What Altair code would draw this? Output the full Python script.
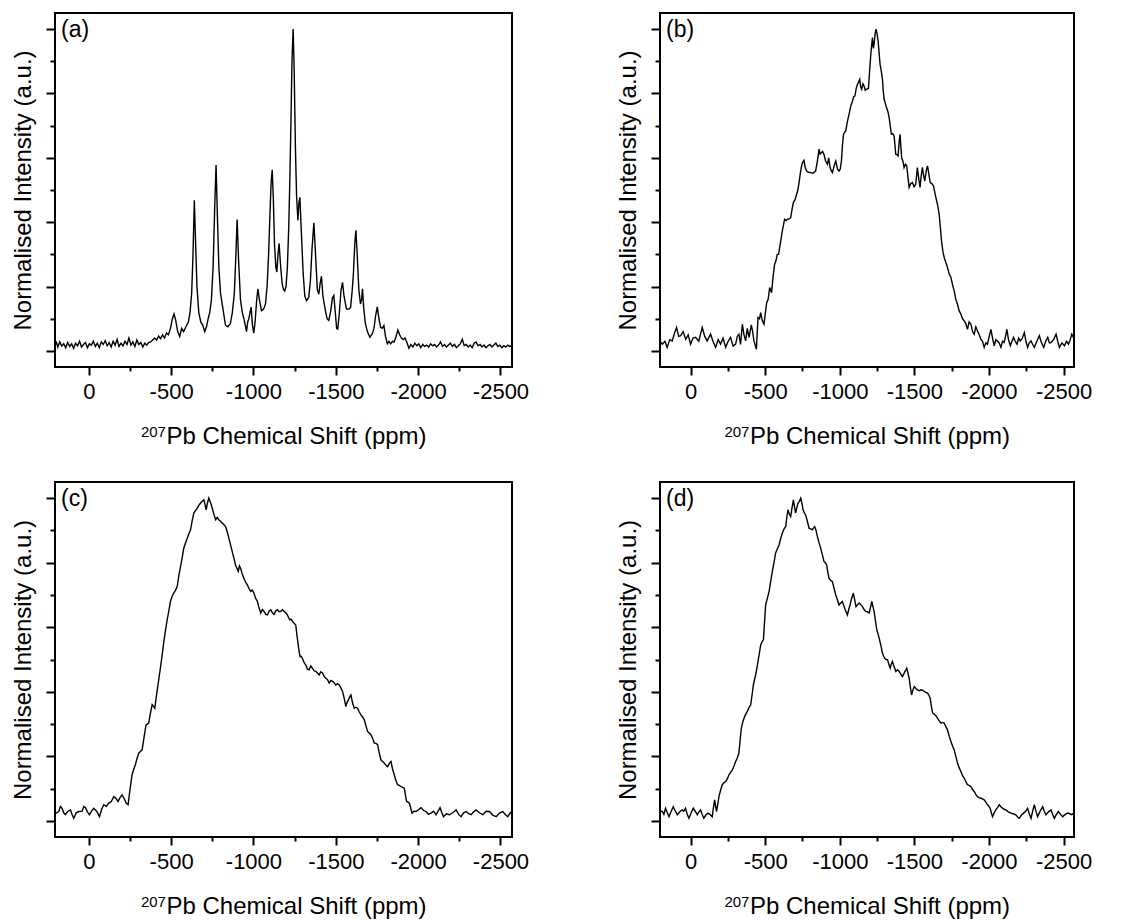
import altair as alt
import pandas as pd

FONT = "Liberation Sans"

# x-axis (ppm) ticks and y ticks
x_ticks = [0, -250, -500, -750, -1000, -1250, -1500, -1750, -2000, -2250, -2500]
y_ticks = [0, 0.1, 0.2, 0.3, 0.4, 0.5, 0.6, 0.7, 0.8, 0.9, 1.0]
x_title = "Pb Chemical Shift (ppm)"
x_title_isotope = "207"
y_title = "Normalised Intensity (a.u.)"
panel_labels = ["(a)", "(b)", "(c)", "(d)"]

# (ppm, normalised intensity)
spectrum_a = [
    (205, 0.018), (196, 0.026), (188, 0.012), (176, 0.028), (164, 0.015), (152, 0.022), (140, 0.010),
    (128, 0.026), (116, 0.014), (104, 0.022), (92, 0.008), (80, 0.024), (68, 0.016), (56, 0.030),
    (44, 0.012), (32, 0.020), (20, 0.026), (8, 0.010), (-4, 0.022), (-16, 0.018), (-28, 0.030),
    (-40, 0.014), (-52, 0.024), (-64, 0.010), (-76, 0.028), (-88, 0.020), (-100, 0.032), (-112, 0.016),
    (-124, 0.026), (-136, 0.012), (-148, 0.030), (-160, 0.018), (-172, 0.036), (-184, 0.014),
    (-196, 0.024), (-208, 0.016), (-220, 0.030), (-232, 0.020), (-244, 0.040), (-256, 0.018),
    (-268, 0.028), (-280, 0.014), (-292, 0.034), (-304, 0.020), (-316, 0.026), (-328, 0.012),
    (-340, 0.024), (-352, 0.018), (-364, 0.026), (-376, 0.028), (-388, 0.034), (-400, 0.040),
    (-412, 0.034), (-424, 0.046), (-436, 0.038), (-448, 0.050), (-460, 0.040), (-472, 0.056),
    (-484, 0.050), (-496, 0.070), (-508, 0.100), (-518, 0.115), (-528, 0.095), (-540, 0.060),
    (-552, 0.045), (-564, 0.070), (-576, 0.060), (-590, 0.075), (-605, 0.090), (-615, 0.120),
    (-625, 0.180), (-633, 0.300), (-641, 0.468), (-649, 0.330), (-657, 0.200), (-668, 0.120),
    (-680, 0.090), (-692, 0.080), (-704, 0.060), (-715, 0.075), (-725, 0.100), (-735, 0.120),
    (-745, 0.160), (-755, 0.260), (-765, 0.450), (-773, 0.578), (-781, 0.420), (-790, 0.260),
    (-800, 0.180), (-815, 0.130), (-830, 0.080), (-845, 0.075), (-860, 0.085), (-872, 0.120),
    (-884, 0.180), (-892, 0.280), (-901, 0.408), (-910, 0.280), (-921, 0.160), (-932, 0.120),
    (-942, 0.100), (-950, 0.080), (-958, 0.060), (-965, 0.090), (-972, 0.100), (-986, 0.136),
    (-994, 0.080), (-1002, 0.055), (-1010, 0.090), (-1020, 0.160), (-1027, 0.193), (-1036, 0.160),
    (-1049, 0.125), (-1062, 0.130), (-1073, 0.146), (-1083, 0.200), (-1092, 0.300), (-1100, 0.420),
    (-1107, 0.520), (-1114, 0.563), (-1121, 0.470), (-1128, 0.330), (-1136, 0.260), (-1142, 0.245),
    (-1149, 0.300), (-1156, 0.334), (-1164, 0.270), (-1174, 0.210), (-1183, 0.190), (-1190, 0.186),
    (-1198, 0.200), (-1206, 0.260), (-1214, 0.380), (-1221, 0.530), (-1228, 0.720), (-1234, 0.900),
    (-1241, 1.000), (-1247, 0.880), (-1255, 0.630), (-1262, 0.480), (-1270, 0.405), (-1276, 0.460),
    (-1282, 0.477), (-1290, 0.380), (-1302, 0.240), (-1312, 0.170), (-1322, 0.156), (-1336, 0.167),
    (-1346, 0.220), (-1356, 0.320), (-1367, 0.398), (-1377, 0.300), (-1388, 0.190), (-1397, 0.176),
    (-1405, 0.210), (-1413, 0.232), (-1422, 0.170), (-1437, 0.125), (-1447, 0.100), (-1457, 0.095),
    (-1468, 0.120), (-1480, 0.165), (-1488, 0.172), (-1497, 0.120), (-1505, 0.070), (-1512, 0.068),
    (-1522, 0.120), (-1532, 0.190), (-1541, 0.213), (-1550, 0.170), (-1565, 0.130), (-1580, 0.130),
    (-1590, 0.135), (-1600, 0.190), (-1607, 0.240), (-1615, 0.330), (-1622, 0.375), (-1630, 0.300),
    (-1640, 0.190), (-1650, 0.146), (-1657, 0.160), (-1662, 0.193), (-1670, 0.130), (-1680, 0.084),
    (-1692, 0.060), (-1707, 0.042), (-1721, 0.053), (-1732, 0.070), (-1742, 0.110), (-1752, 0.137),
    (-1762, 0.100), (-1772, 0.073), (-1782, 0.070), (-1792, 0.079), (-1802, 0.045), (-1813, 0.022),
    (-1823, 0.030), (-1833, 0.022), (-1845, 0.030), (-1854, 0.027), (-1866, 0.045), (-1877, 0.065),
    (-1888, 0.050), (-1898, 0.040), (-1910, 0.035), (-1920, 0.040), (-1932, 0.026), (-1944, 0.008),
    (-1956, 0.020), (-1968, 0.012), (-1980, 0.024), (-1992, 0.016), (-2004, 0.022), (-2016, 0.010),
    (-2028, 0.020), (-2040, 0.014), (-2052, 0.018), (-2064, 0.012), (-2076, 0.022), (-2088, 0.016),
    (-2100, 0.020), (-2112, 0.012), (-2124, 0.018), (-2136, 0.028), (-2148, 0.014), (-2160, 0.020),
    (-2172, 0.012), (-2184, 0.018), (-2196, 0.024), (-2208, 0.014), (-2220, 0.020), (-2232, 0.010),
    (-2244, 0.016), (-2256, 0.022), (-2268, 0.036), (-2280, 0.016), (-2292, 0.020), (-2304, 0.012),
    (-2316, 0.018), (-2328, 0.010), (-2340, 0.024), (-2352, 0.028), (-2364, 0.016), (-2376, 0.020),
    (-2388, 0.012), (-2400, 0.018), (-2412, 0.010), (-2424, 0.016), (-2436, 0.020), (-2448, 0.012),
    (-2460, 0.018), (-2472, 0.024), (-2484, 0.014), (-2496, 0.018), (-2508, 0.010), (-2520, 0.016),
    (-2532, 0.012), (-2544, 0.018), (-2556, 0.014), (-2568, 0.016),
]

spectrum_b = [
    (205, 0.030), (190, 0.021), (172, 0.030), (157, 0.011), (140, 0.035), (123, 0.031), (108, 0.055),
    (94, 0.073), (80, 0.045), (67, 0.047), (50, 0.060), (33, 0.036), (16, 0.050), (0, 0.021),
    (-16, 0.040), (-33, 0.042), (-55, 0.030), (-78, 0.073), (-95, 0.045), (-111, 0.031), (-134, 0.052),
    (-150, 0.030), (-168, 0.011), (-185, 0.035), (-201, 0.021), (-218, 0.040), (-235, 0.011),
    (-252, 0.030), (-268, 0.042), (-285, 0.015), (-302, 0.021), (-313, 0.045), (-324, 0.052),
    (-335, 0.020), (-347, 0.083), (-358, 0.050), (-369, 0.031), (-380, 0.070), (-392, 0.042),
    (-407, 0.081), (-416, 0.060), (-425, 0.031), (-441, 0.005), (-452, 0.104), (-462, 0.100),
    (-470, 0.119), (-480, 0.095), (-492, 0.083), (-510, 0.150), (-520, 0.160), (-530, 0.197),
    (-543, 0.181), (-553, 0.230), (-563, 0.269), (-572, 0.280), (-581, 0.300), (-590, 0.300),
    (-599, 0.326), (-607, 0.350), (-615, 0.373), (-630, 0.409), (-640, 0.405), (-648, 0.409),
    (-660, 0.410), (-671, 0.414), (-680, 0.440), (-689, 0.461), (-700, 0.470), (-711, 0.487),
    (-719, 0.500), (-727, 0.523), (-735, 0.550), (-742, 0.570), (-750, 0.585), (-760, 0.592),
    (-768, 0.570), (-778, 0.559), (-790, 0.555), (-805, 0.554), (-820, 0.552), (-838, 0.559),
    (-850, 0.590), (-861, 0.627), (-868, 0.612), (-876, 0.616), (-885, 0.620), (-894, 0.611),
    (-905, 0.590), (-917, 0.580), (-926, 0.600), (-935, 0.570), (-943, 0.560), (-951, 0.554),
    (-962, 0.575), (-973, 0.590), (-985, 0.565), (-995, 0.559), (-1003, 0.565), (-1011, 0.590),
    (-1018, 0.640), (-1025, 0.673), (-1033, 0.680), (-1040, 0.683), (-1050, 0.710), (-1062, 0.735),
    (-1073, 0.760), (-1085, 0.776), (-1093, 0.790), (-1101, 0.792), (-1110, 0.815), (-1118, 0.828),
    (-1126, 0.835), (-1134, 0.844), (-1140, 0.820), (-1147, 0.813), (-1155, 0.830), (-1163, 0.823),
    (-1171, 0.810), (-1179, 0.813), (-1192, 0.816), (-1200, 0.870), (-1208, 0.922), (-1214, 0.950),
    (-1219, 0.974), (-1225, 0.940), (-1230, 0.953), (-1237, 0.985), (-1243, 1.000), (-1250, 0.985),
    (-1257, 0.963), (-1263, 0.930), (-1270, 0.891), (-1278, 0.870), (-1286, 0.844), (-1291, 0.810),
    (-1297, 0.782), (-1305, 0.770), (-1313, 0.756), (-1322, 0.745), (-1331, 0.725), (-1338, 0.700),
    (-1346, 0.673), (-1355, 0.675), (-1364, 0.668), (-1370, 0.640), (-1375, 0.611), (-1383, 0.610),
    (-1391, 0.606), (-1398, 0.650), (-1404, 0.673), (-1410, 0.630), (-1415, 0.600), (-1423, 0.590),
    (-1431, 0.570), (-1440, 0.580), (-1449, 0.575), (-1457, 0.540), (-1465, 0.508), (-1476, 0.520),
    (-1487, 0.523), (-1498, 0.510), (-1509, 0.518), (-1515, 0.545), (-1520, 0.570), (-1528, 0.540),
    (-1538, 0.508), (-1546, 0.545), (-1554, 0.570), (-1562, 0.545), (-1570, 0.528), (-1580, 0.560),
    (-1588, 0.575), (-1597, 0.550), (-1606, 0.523), (-1617, 0.520), (-1628, 0.513), (-1636, 0.495),
    (-1644, 0.477), (-1655, 0.455), (-1666, 0.425), (-1674, 0.385), (-1682, 0.342), (-1691, 0.310),
    (-1700, 0.290), (-1711, 0.275), (-1722, 0.259), (-1733, 0.240), (-1745, 0.228), (-1756, 0.205),
    (-1767, 0.186), (-1778, 0.160), (-1789, 0.145), (-1800, 0.125), (-1812, 0.114), (-1823, 0.100),
    (-1834, 0.093), (-1845, 0.085), (-1856, 0.067), (-1867, 0.090), (-1879, 0.083), (-1890, 0.060),
    (-1901, 0.052), (-1912, 0.075), (-1923, 0.062), (-1935, 0.050), (-1946, 0.036), (-1957, 0.030),
    (-1968, 0.011), (-1979, 0.025), (-1990, 0.021), (-2002, 0.045), (-2013, 0.067), (-2024, 0.040),
    (-2035, 0.016), (-2046, 0.035), (-2057, 0.031), (-2068, 0.025), (-2080, 0.011), (-2091, 0.030),
    (-2102, 0.026), (-2111, 0.045), (-2120, 0.067), (-2131, 0.035), (-2143, 0.016), (-2154, 0.030),
    (-2165, 0.042), (-2176, 0.030), (-2188, 0.021), (-2199, 0.040), (-2210, 0.031), (-2224, 0.040),
    (-2237, 0.057), (-2248, 0.030), (-2259, 0.011), (-2270, 0.025), (-2282, 0.031), (-2293, 0.020),
    (-2304, 0.011), (-2321, 0.030), (-2338, 0.047), (-2352, 0.025), (-2367, 0.011), (-2380, 0.030),
    (-2394, 0.042), (-2405, 0.025), (-2416, 0.026), (-2433, 0.035), (-2450, 0.052), (-2461, 0.030),
    (-2472, 0.011), (-2489, 0.025), (-2506, 0.016), (-2520, 0.030), (-2533, 0.021), (-2545, 0.035),
    (-2555, 0.052), (-2568, 0.040),
]

spectrum_c = [
    (205, 0.022), (182, 0.029), (172, 0.045), (162, 0.039), (152, 0.025), (142, 0.019), (126, 0.030),
    (111, 0.034), (101, 0.020), (91, 0.008), (76, 0.025), (61, 0.029), (40, 0.030), (30, 0.045),
    (20, 0.041), (8, 0.028), (-4, 0.019), (-17, 0.030), (-30, 0.039), (-48, 0.030), (-65, 0.013),
    (-78, 0.035), (-91, 0.050), (-106, 0.045), (-121, 0.055), (-137, 0.060), (-152, 0.075),
    (-165, 0.070), (-178, 0.060), (-190, 0.072), (-202, 0.081), (-214, 0.070), (-227, 0.055),
    (-239, 0.050), (-251, 0.100), (-263, 0.143), (-273, 0.160), (-283, 0.174), (-294, 0.195),
    (-304, 0.210), (-314, 0.215), (-324, 0.220), (-336, 0.260), (-348, 0.298), (-356, 0.300),
    (-364, 0.303), (-375, 0.335), (-385, 0.360), (-393, 0.355), (-401, 0.349), (-410, 0.385),
    (-419, 0.416), (-427, 0.445), (-435, 0.473), (-446, 0.515), (-456, 0.556), (-466, 0.590),
    (-476, 0.623), (-486, 0.650), (-496, 0.680), (-506, 0.695), (-516, 0.706), (-527, 0.715),
    (-537, 0.726), (-547, 0.760), (-557, 0.788), (-567, 0.815), (-577, 0.845), (-588, 0.862),
    (-598, 0.876), (-608, 0.890), (-618, 0.902), (-628, 0.930), (-638, 0.954), (-649, 0.962),
    (-659, 0.969), (-669, 0.978), (-679, 0.985), (-689, 0.990), (-699, 0.995), (-706, 0.980),
    (-713, 0.964), (-721, 0.985), (-729, 1.000), (-740, 0.985), (-750, 0.969), (-760, 0.950),
    (-770, 0.933), (-780, 0.940), (-790, 0.933), (-800, 0.928), (-810, 0.923), (-820, 0.918),
    (-831, 0.912), (-841, 0.895), (-851, 0.876), (-861, 0.855), (-871, 0.835), (-881, 0.815),
    (-891, 0.793), (-900, 0.783), (-908, 0.773), (-915, 0.790), (-922, 0.783), (-932, 0.765),
    (-942, 0.752), (-952, 0.740), (-963, 0.731), (-973, 0.720), (-983, 0.711), (-993, 0.715),
    (-1003, 0.706), (-1013, 0.690), (-1024, 0.680), (-1034, 0.660), (-1044, 0.644), (-1054, 0.655),
    (-1064, 0.649), (-1075, 0.640), (-1085, 0.638), (-1095, 0.650), (-1105, 0.654), (-1115, 0.645),
    (-1125, 0.640), (-1135, 0.650), (-1146, 0.654), (-1156, 0.648), (-1166, 0.649), (-1176, 0.655),
    (-1186, 0.649), (-1196, 0.645), (-1206, 0.638), (-1213, 0.630), (-1220, 0.623), (-1228, 0.625),
    (-1237, 0.618), (-1247, 0.612), (-1257, 0.607), (-1263, 0.580), (-1269, 0.556), (-1276, 0.530),
    (-1283, 0.509), (-1290, 0.510), (-1297, 0.504), (-1308, 0.490), (-1318, 0.483), (-1328, 0.470),
    (-1338, 0.468), (-1348, 0.480), (-1358, 0.473), (-1368, 0.465), (-1379, 0.463), (-1389, 0.458),
    (-1399, 0.452), (-1409, 0.462), (-1419, 0.458), (-1429, 0.448), (-1439, 0.442), (-1449, 0.438),
    (-1460, 0.427), (-1470, 0.435), (-1480, 0.432), (-1490, 0.428), (-1500, 0.421), (-1510, 0.425),
    (-1521, 0.421), (-1531, 0.412), (-1541, 0.401), (-1551, 0.380), (-1561, 0.354), (-1569, 0.368),
    (-1577, 0.375), (-1585, 0.385), (-1592, 0.390), (-1602, 0.365), (-1612, 0.349), (-1622, 0.352),
    (-1632, 0.349), (-1642, 0.338), (-1652, 0.329), (-1663, 0.322), (-1673, 0.313), (-1683, 0.295),
    (-1693, 0.277), (-1703, 0.272), (-1713, 0.267), (-1724, 0.255), (-1734, 0.241), (-1744, 0.240),
    (-1754, 0.236), (-1764, 0.210), (-1774, 0.189), (-1784, 0.184), (-1794, 0.179), (-1805, 0.172),
    (-1815, 0.168), (-1825, 0.178), (-1835, 0.184), (-1845, 0.160), (-1855, 0.143), (-1865, 0.125),
    (-1875, 0.112), (-1886, 0.110), (-1896, 0.106), (-1906, 0.104), (-1916, 0.101), (-1923, 0.080),
    (-1930, 0.060), (-1939, 0.058), (-1947, 0.055), (-1955, 0.040), (-1963, 0.024), (-1975, 0.030),
    (-1987, 0.029), (-2003, 0.035), (-2018, 0.041), (-2033, 0.032), (-2048, 0.029), (-2063, 0.020),
    (-2078, 0.024), (-2094, 0.030), (-2109, 0.019), (-2121, 0.030), (-2133, 0.041), (-2144, 0.025),
    (-2154, 0.013), (-2172, 0.022), (-2190, 0.019), (-2210, 0.025), (-2231, 0.034), (-2246, 0.020),
    (-2261, 0.013), (-2276, 0.025), (-2292, 0.029), (-2307, 0.022), (-2322, 0.019), (-2337, 0.028),
    (-2352, 0.034), (-2372, 0.025), (-2393, 0.019), (-2413, 0.030), (-2433, 0.029), (-2453, 0.018),
    (-2474, 0.013), (-2494, 0.024), (-2514, 0.029), (-2529, 0.020), (-2544, 0.013), (-2556, 0.022),
    (-2568, 0.029),
]

spectrum_d = [
    (205, 0.030), (190, 0.029), (179, 0.020), (168, 0.039), (156, 0.025), (145, 0.013), (130, 0.030),
    (116, 0.044), (102, 0.030), (89, 0.019), (72, 0.028), (56, 0.034), (45, 0.030), (34, 0.039),
    (22, 0.020), (11, 0.008), (-4, 0.025), (-18, 0.039), (-31, 0.030), (-45, 0.019), (-56, 0.028),
    (-67, 0.034), (-78, 0.020), (-89, 0.008), (-102, 0.018), (-116, 0.024), (-130, 0.020),
    (-145, 0.013), (-153, 0.040), (-161, 0.065), (-168, 0.045), (-174, 0.029), (-182, 0.050),
    (-190, 0.075), (-201, 0.095), (-212, 0.112), (-224, 0.118), (-235, 0.122), (-246, 0.130),
    (-257, 0.143), (-268, 0.150), (-280, 0.158), (-291, 0.170), (-302, 0.184), (-313, 0.195),
    (-324, 0.210), (-332, 0.250), (-340, 0.287), (-349, 0.305), (-358, 0.318), (-369, 0.330),
    (-380, 0.339), (-391, 0.350), (-403, 0.360), (-412, 0.390), (-421, 0.421), (-429, 0.438),
    (-436, 0.452), (-444, 0.472), (-452, 0.494), (-461, 0.520), (-470, 0.545), (-479, 0.555),
    (-488, 0.561), (-495, 0.610), (-503, 0.669), (-515, 0.690), (-526, 0.711), (-537, 0.742),
    (-548, 0.773), (-559, 0.800), (-570, 0.830), (-582, 0.843), (-593, 0.855), (-604, 0.875),
    (-615, 0.892), (-627, 0.905), (-638, 0.912), (-645, 0.940), (-653, 0.964), (-662, 0.950),
    (-671, 0.943), (-680, 0.970), (-689, 0.995), (-696, 0.975), (-704, 0.954), (-712, 0.970),
    (-720, 0.985), (-729, 0.990), (-738, 1.000), (-746, 0.985), (-754, 0.964), (-762, 0.955),
    (-771, 0.948), (-782, 0.930), (-794, 0.907), (-805, 0.905), (-816, 0.902), (-824, 0.908),
    (-832, 0.912), (-841, 0.900), (-850, 0.881), (-861, 0.862), (-872, 0.845), (-883, 0.825),
    (-894, 0.804), (-903, 0.800), (-912, 0.793), (-920, 0.770), (-928, 0.752), (-939, 0.745),
    (-950, 0.742), (-962, 0.720), (-973, 0.700), (-984, 0.685), (-995, 0.669), (-1006, 0.675),
    (-1017, 0.680), (-1025, 0.670), (-1033, 0.659), (-1042, 0.648), (-1051, 0.638), (-1060, 0.655),
    (-1069, 0.669), (-1080, 0.690), (-1091, 0.706), (-1100, 0.685), (-1109, 0.664), (-1120, 0.670),
    (-1130, 0.675), (-1141, 0.670), (-1152, 0.664), (-1163, 0.655), (-1174, 0.649), (-1186, 0.648),
    (-1197, 0.644), (-1206, 0.662), (-1215, 0.680), (-1222, 0.665), (-1230, 0.649), (-1239, 0.620),
    (-1248, 0.592), (-1256, 0.580), (-1264, 0.566), (-1275, 0.545), (-1286, 0.520), (-1294, 0.510),
    (-1302, 0.504), (-1311, 0.500), (-1320, 0.499), (-1329, 0.485), (-1338, 0.473), (-1345, 0.485),
    (-1353, 0.494), (-1364, 0.478), (-1376, 0.463), (-1387, 0.468), (-1398, 0.463), (-1409, 0.455),
    (-1420, 0.447), (-1434, 0.460), (-1449, 0.473), (-1457, 0.458), (-1465, 0.442), (-1473, 0.415),
    (-1481, 0.390), (-1490, 0.405), (-1499, 0.416), (-1510, 0.410), (-1521, 0.406), (-1532, 0.403),
    (-1543, 0.406), (-1555, 0.405), (-1566, 0.401), (-1577, 0.398), (-1588, 0.396), (-1597, 0.390),
    (-1606, 0.380), (-1614, 0.355), (-1622, 0.334), (-1630, 0.332), (-1637, 0.329), (-1646, 0.325),
    (-1655, 0.318), (-1667, 0.310), (-1678, 0.303), (-1689, 0.305), (-1700, 0.303), (-1711, 0.292),
    (-1722, 0.282), (-1734, 0.262), (-1745, 0.246), (-1756, 0.232), (-1767, 0.220), (-1778, 0.200),
    (-1789, 0.179), (-1800, 0.165), (-1812, 0.153), (-1823, 0.140), (-1834, 0.132), (-1845, 0.122),
    (-1856, 0.112), (-1867, 0.110), (-1879, 0.106), (-1890, 0.098), (-1901, 0.091), (-1912, 0.082),
    (-1923, 0.075), (-1935, 0.072), (-1946, 0.070), (-1957, 0.068), (-1968, 0.065), (-1979, 0.058),
    (-1990, 0.050), (-2000, 0.045), (-2008, 0.039), (-2016, 0.025), (-2024, 0.013), (-2035, 0.025),
    (-2046, 0.034), (-2058, 0.042), (-2069, 0.050), (-2080, 0.044), (-2091, 0.039), (-2102, 0.036),
    (-2113, 0.034), (-2130, 0.028), (-2147, 0.024), (-2163, 0.022), (-2180, 0.019), (-2192, 0.012),
    (-2203, 0.008), (-2218, 0.018), (-2232, 0.024), (-2246, 0.030), (-2259, 0.039), (-2270, 0.022),
    (-2282, 0.008), (-2293, 0.030), (-2304, 0.050), (-2315, 0.030), (-2326, 0.013), (-2343, 0.030),
    (-2360, 0.044), (-2371, 0.030), (-2382, 0.019), (-2399, 0.028), (-2416, 0.034), (-2427, 0.020),
    (-2438, 0.008), (-2452, 0.020), (-2465, 0.029), (-2480, 0.020), (-2494, 0.013), (-2511, 0.020),
    (-2528, 0.024), (-2542, 0.022), (-2555, 0.019), (-2568, 0.024),
]

X_DOMAIN = [-2570, 205]
Y_DOMAIN = [-0.05, 1.05]

TITLE_SIZE = 24
SUP_SIZE = 15
TITLE_Y = 57

x_label_expr = (
    "datum.value % 500 === 0 ? (datum.value < 0 ? '-' + toString(abs(datum.value)) : '0') : ''"
)


def panel(points, label, width, height):
    df = pd.DataFrame(points, columns=["ppm", "intensity"])
    # main title text width ~ 10.84 em; superscript "207" ~ 1.67 em of its own size
    sup_w = 1.67 * SUP_SIZE
    main_w = 10.84 * TITLE_SIZE
    title_center = width / 2 + sup_w / 2
    line = alt.Chart(df).mark_line(color="black", strokeWidth=1.4).encode(
        x=alt.X(
            "ppm:Q",
            scale=alt.Scale(domain=X_DOMAIN, reverse=True, nice=False, zero=False),
            axis=alt.Axis(
                values=x_ticks,
                title=x_title,
                titleX=title_center,
                titleY=TITLE_Y,
                titleAlign="center",
                titleBaseline="top",
                labelExpr=x_label_expr,
                tickSize={"condition": {"test": "datum.value % 500 === 0", "value": 8}, "value": 4},
            ),
        ),
        y=alt.Y(
            "intensity:Q",
            scale=alt.Scale(domain=Y_DOMAIN, nice=False, zero=False),
            axis=alt.Axis(
                values=y_ticks,
                labels=False,
                title=y_title,
                tickSize={
                    "condition": {"test": "round(datum.value * 10) % 2 === 0", "value": 9},
                    "value": 5,
                },
            ),
        ),
    )
    text = alt.Chart(pd.DataFrame({"label": [label]})).mark_text(
        align="left", baseline="top", fontSize=23, font=FONT, color="black"
    ).encode(x=alt.value(6), y=alt.value(6), text="label:N")
    sup = alt.Chart(pd.DataFrame({"iso": [x_title_isotope]})).mark_text(
        align="right", baseline="alphabetic", fontSize=SUP_SIZE, font=FONT, color="black"
    ).encode(
        x=alt.value(title_center - main_w / 2),
        y=alt.value(height + TITLE_Y + 13),
        text="iso:N",
    )
    return alt.layer(line, text, sup).properties(width=width, height=height)


pa = panel(spectrum_a, panel_labels[0], 457, 354)
pb = panel(spectrum_b, panel_labels[1], 414, 354)
pc = panel(spectrum_c, panel_labels[2], 457, 355)
pd_ = panel(spectrum_d, panel_labels[3], 414, 355)

chart = (
    alt.hconcat(
        alt.vconcat(pa, pc, spacing=32),
        alt.vconcat(pb, pd_, spacing=32),
        spacing=85,
    )
    .properties(padding={"left": 10, "top": 12, "right": 5, "bottom": 5}, background="white")
    .configure_view(stroke="black", strokeWidth=2)
    .configure_axis(
        domain=False,
        grid=False,
        labelFont=FONT,
        labelFontSize=22,
        labelColor="black",
        labelPadding=6,
        titleFont=FONT,
        titleFontSize=TITLE_SIZE,
        titleFontWeight="normal",
        titleColor="black",
        tickColor="black",
        tickWidth=2,
        titlePadding=10,
    )
)

chart.save("out.html", embed_options={"renderer": "svg", "actions": False})
